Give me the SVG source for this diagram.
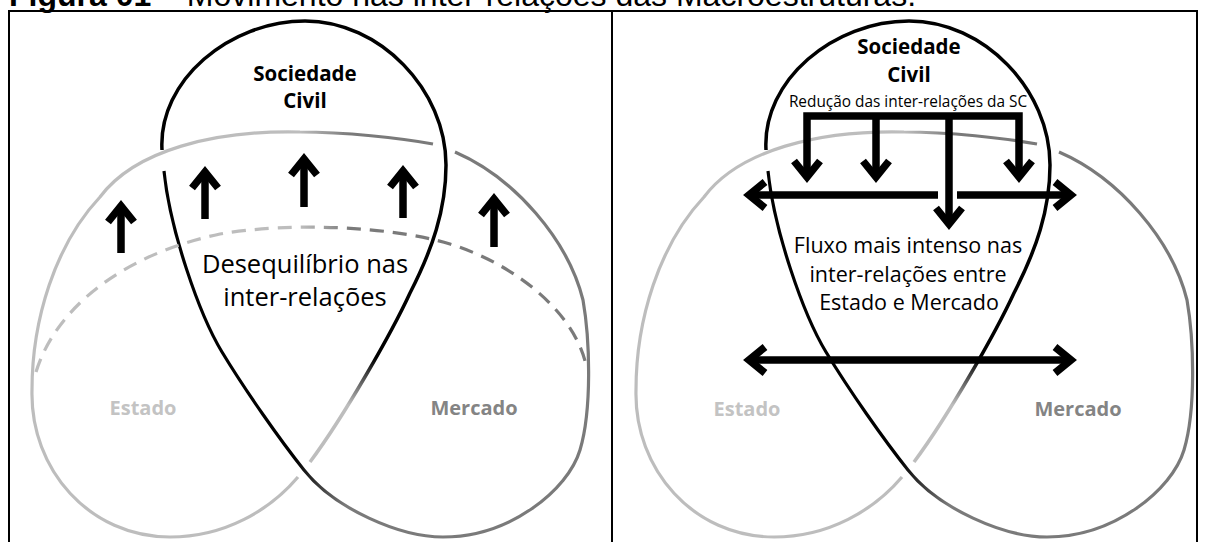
<svg xmlns="http://www.w3.org/2000/svg" width="1205" height="542" viewBox="0 0 1205 542">
<style>
.title{font-family:"Liberation Sans",Arial,sans-serif;font-size:32px;fill:#000}
.b{font-weight:700}
.sc{font-family:"Open Sans","Noto Sans",sans-serif;font-weight:700;font-size:20.5px;text-anchor:middle;fill:#000}
.big{font-family:"Open Sans","Noto Sans",sans-serif;font-size:25.5px;text-anchor:middle;fill:#000}
.mid{font-family:"Open Sans","Noto Sans",sans-serif;font-size:21.5px;text-anchor:middle;fill:#000}
.small{font-family:"Open Sans","Noto Sans",sans-serif;font-size:15.4px;text-anchor:middle;fill:#000}
.est{font-family:"Open Sans","Noto Sans",sans-serif;font-weight:700;font-size:20px;text-anchor:middle;fill:#c3c3c3}
.mer{font-family:"Open Sans","Noto Sans",sans-serif;font-weight:700;font-size:20px;text-anchor:middle;fill:#848484}
.curve{fill:none;stroke-width:3.2;stroke-linecap:butt}
.cEst{stroke:url(#gTop)}
.cMer{stroke:url(#gMer)}
.cSoc{stroke:url(#gSoc);stroke-width:3.5}
.dash{fill:none;stroke:url(#gTop);stroke-width:3.2;stroke-dasharray:14 9}
.arr{fill:none;stroke:#000;stroke-width:7.5;stroke-linejoin:miter}
.frame{fill:none;stroke:#000;stroke-width:2}
</style>
<defs>
<linearGradient id="gTop" gradientUnits="userSpaceOnUse" x1="300" y1="0" x2="350" y2="0"><stop offset="0" stop-color="#bdbdbd"/><stop offset="1" stop-color="#7a7a7a"/></linearGradient>
<linearGradient id="gMer" gradientUnits="userSpaceOnUse" x1="345" y1="0" x2="295" y2="0"><stop offset="0" stop-color="#7a7a7a"/><stop offset="1" stop-color="#000"/></linearGradient>
<linearGradient id="gSoc" gradientUnits="userSpaceOnUse" x1="0" y1="358" x2="0" y2="405"><stop offset="0" stop-color="#000"/><stop offset="1" stop-color="#bdbdbd"/></linearGradient>
<path id="pEst" d="M298,477 C270,510 225,537 170,537 C90,537 30,470 32,390 C32,320 55,245 100,197 C135,150 215,130 300,132 C345,132 400,138 433,144"/>
<path id="pMer" d="M455,152 C515,178 568,240 583,300 C590,340 592,410 580,450 C568,490 510,537 443,537 C400,537 335,509 304,470 C280,440 245,390 222,352 C199,314 170,230 164,171"/>
<path id="pSoc" d="M162,150 C158,80 230,21 305,21 C380,21 446,90 446,165 C446,210 432,250 410,293 C392,332 345,415 310,462"/>
<marker id="ah" markerUnits="userSpaceOnUse" viewBox="-30 -20 40 40" refX="0" refY="0" markerWidth="40" markerHeight="40" orient="auto-start-reverse" overflow="visible">
<polyline points="-16,-13 0,0 -16,13" fill="none" stroke="#000" stroke-width="7.5" stroke-linejoin="miter"/>
</marker>
</defs>
<rect width="1205" height="542" fill="#fff"/>
<g id="title">
<text class="title" x="9" y="6"><tspan class="b">Figura 01 –</tspan> Movimento nas inter-relações das Macroestruturas.</text>
</g>
<g id="frame">
<rect class="frame" x="9" y="11" width="1188" height="560"/>
<line class="frame" x1="612" y1="11" x2="612" y2="560"/>
</g>
<g id="left-panel">
<g id="estado-1"><use href="#pEst" class="curve cEst"/><text class="est" x="143" y="415">Estado</text></g>
<g id="mercado-1"><use href="#pMer" class="curve cMer"/><text class="mer" x="474" y="415">Mercado</text></g>
<g id="sociedade-1"><use href="#pSoc" class="curve cSoc"/><text class="sc" x="305" y="81">Sociedade</text><text class="sc" x="305" y="108">Civil</text></g>
<g id="desequilibrio"><path class="dash" d="M36,372 C55,310 120,255 220,234 C290,222 390,226 450,244 C520,266 575,315 586,365"/><text class="big" x="305" y="273">Desequilíbrio nas</text><text class="big" x="305" y="306">inter-relações</text></g>
<g id="connectors-1">
<path class="arr" marker-end="url(#ah)" d="M121,253 V206"/>
<path class="arr" marker-end="url(#ah)" d="M205,219 V172"/>
<path class="arr" marker-end="url(#ah)" d="M304,207 V159"/>
<path class="arr" marker-end="url(#ah)" d="M403,218 V171"/>
<path class="arr" marker-end="url(#ah)" d="M494,247 V199"/>
</g>
</g>
<g id="right-panel">
<g id="estado-2" transform="translate(604,0)"><use href="#pEst" class="curve cEst"/><text class="est" x="143" y="416">Estado</text></g>
<g id="mercado-2" transform="translate(604,0)"><use href="#pMer" class="curve cMer"/><text class="mer" x="474" y="416">Mercado</text></g>
<g id="sociedade-2" transform="translate(604,0)"><use href="#pSoc" class="curve cSoc"/><text class="sc" x="305" y="54">Sociedade</text><text class="sc" x="305" y="82">Civil</text><text class="small" x="304" y="107">Redução das inter-relações da SC</text></g>
<g id="fluxo"><text class="mid" x="908" y="253">Fluxo mais intenso nas</text><text class="mid" x="908" y="282">inter-relações entre</text><text class="mid" x="909" y="310">Estado e Mercado</text></g>
<g id="connectors-2">
<path class="arr" marker-start="url(#ah)" marker-end="url(#ah)" d="M807,177 V116 H1019 V177"/>
<path class="arr" marker-end="url(#ah)" d="M876,116 V177"/>
<path class="arr" marker-start="url(#ah)" d="M749,195 H938"/>
<path class="arr" marker-end="url(#ah)" d="M957,195 H1071"/>
<path class="arr" marker-end="url(#ah)" d="M949,116 V224"/>
<path class="arr" marker-start="url(#ah)" marker-end="url(#ah)" d="M749,360 H1071"/>
</g>
</g>
</svg>
